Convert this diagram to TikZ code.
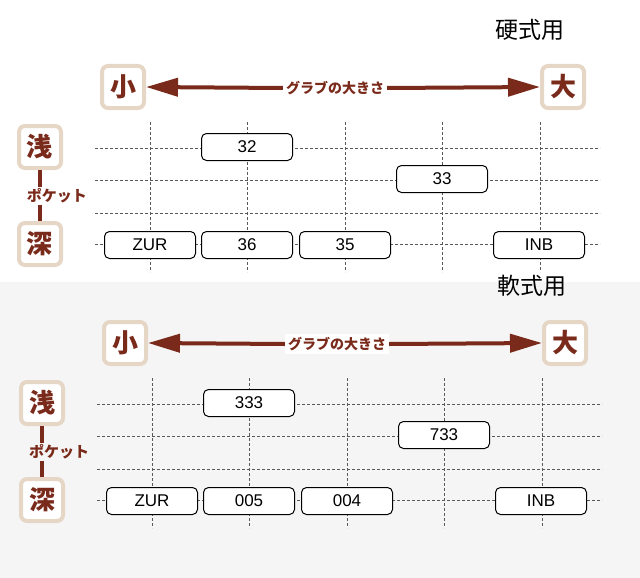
\documentclass[tikz,border=0pt]{standalone}
\usepackage{fontspec}
\setmainfont{Liberation Sans}
\newfontfamily\jp{Noto Sans CJK JP}
\usetikzlibrary{arrows.meta}
\definecolor{dred}{HTML}{7A2A1A}
\definecolor{beige}{HTML}{E6D6C6}
\tikzset{
  lbl/.style={draw=beige,line width=4pt,fill=white,rounded corners=6pt,minimum size=42pt,inner sep=0pt,text=dred,font=\jp\bfseries\fontsize{26}{26}\selectfont},
  mdl/.style={draw=black,line width=1pt,rounded corners=5pt,minimum width=91pt,minimum height=27pt,inner sep=0pt,font=\fontsize{17}{17}\selectfont,fill=white},
  grid/.style={densely dashed,gray!70!black,line width=0.6pt},
  bar/.style={dred,line width=4pt},
  bigarr/.style={dred,line width=4pt,-{Triangle[length=32pt,width=18pt]}},
}
\newcommand\mypanel[9]{% prefix, title, a, b, c, d
\begin{scope}[shift={(#1)}]
\node[font=\jp\fontsize{23}{23}\selectfont] at (530,30) {#2};
\node[lbl] (#3s) at (123,87) {\jp 小};
\node[lbl] (#3l) at (563,87) {\jp 大};
\node[fill=white,inner sep=3pt,text=dred,font=\jp\bfseries\fontsize{14}{14}\selectfont] (#3g) at (335,88) {グラブの大きさ};
\draw[bigarr] (#3g.west) -- (#3s.east);
\draw[bigarr] (#3g.east) -- (#3l.west);
\foreach \y in {148,180,213,244} \draw[grid] (95,\y) -- (600,\y);
\foreach \x in {150,247,345,442,540} \draw[grid] (\x,122) -- (\x,272);
\node[lbl] (#3a) at (40,147) {\jp 浅};
\node[lbl] (#3d) at (40,244) {\jp 深};
\node[text=dred,inner sep=1pt,font=\jp\bfseries\fontsize{15}{15}\selectfont] (#3p) at (57,196) {ポケット};
\draw[bar] (#3a.south) -- (#3p.north -| #3a.south);
\draw[bar] (#3p.south -| #3d.north) -- (#3d.north);
\node[mdl] (#3m1) at (247,147) {#4};
\node[mdl] (#3m2) at (442,179) {#5};
\node[mdl] (#3m3) at (150,245) {ZUR};
\node[mdl] (#3m4) at (247,245) {#6};
\node[mdl] (#3m5) at (345,245) {#7};
\node[mdl] (#3m6) at (539,245) {INB};
\end{scope}}
\begin{document}
\begin{tikzpicture}[x=1pt,y=-1pt]
\useasboundingbox (0,0) rectangle (640,578);
\fill[gray!8] (0,282) rectangle (640,578);
\mypanel{0,0}{硬式用}{p}{32}{33}{36}{35}{}{}
\mypanel{2,256}{軟式用}{q}{333}{733}{005}{004}{}{}
\end{tikzpicture}
\end{document}
